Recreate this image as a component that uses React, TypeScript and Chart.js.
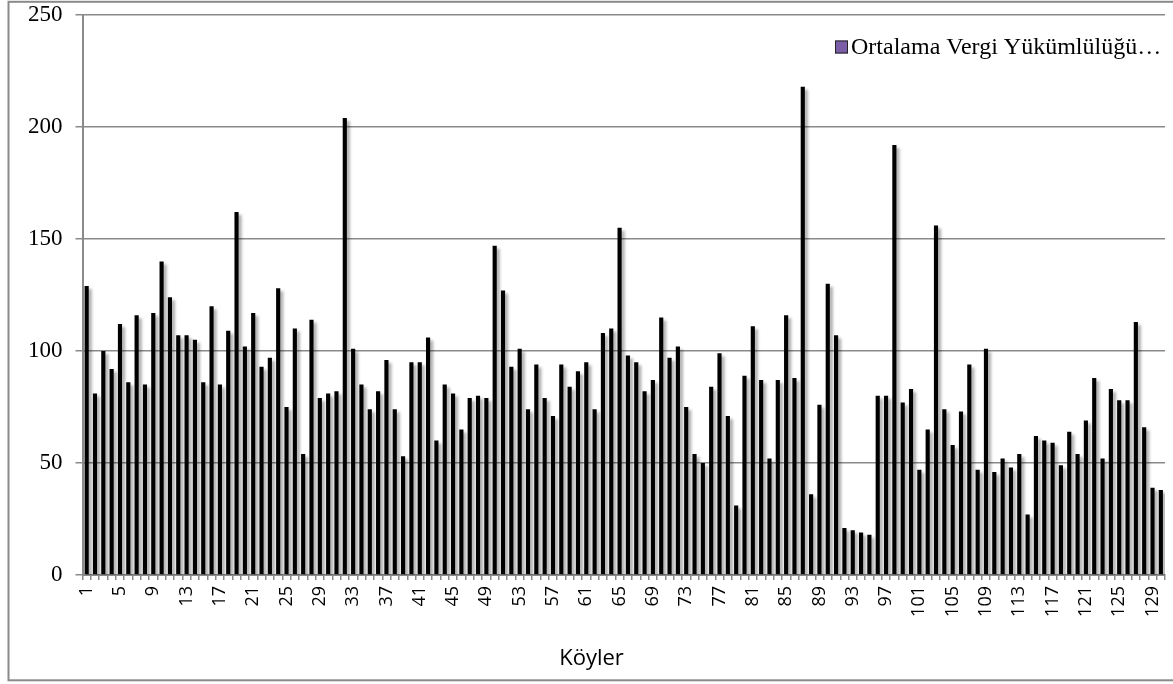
import React, { useEffect, useRef } from "react";
import { Chart, registerables } from "chart.js";

Chart.register(...registerables);

const values: number[] = [
  129, 81, 100, 92, 112, 86, 116, 85, 117, 140,
  124, 107, 107, 105, 86, 120, 85, 109, 162, 102,
  117, 93, 97, 128, 75, 110, 54, 114, 79, 81,
  82, 204, 101, 85, 74, 82, 96, 74, 53, 95,
  95, 106, 60, 85, 81, 65, 79, 80, 79, 147,
  127, 93, 101, 74, 94, 79, 71, 94, 84, 91,
  95, 74, 108, 110, 155, 98, 95, 82, 87, 115,
  97, 102, 75, 54, 50, 84, 99, 71, 31, 89,
  111, 87, 52, 87, 116, 88, 218, 36, 76, 130,
  107, 21, 20, 19, 18, 80, 80, 192, 77, 83,
  47, 65, 156, 74, 58, 73, 94, 47, 101, 46,
  52, 48, 54, 27, 62, 60, 59, 49, 64, 54,
  69, 88, 52, 83, 78, 78, 113, 66, 39, 38,
];

const categories: string[] = values.map((_, i) => String(i + 1));
const legendLabel = "Ortalama Vergi Yükümlülüğü…";
const xTitle = "Köyler";
const yMin = 0;
const yMax = 250;
const yStep = 50;

const GRAY = "#8a8a8a";

const shadowPlugin = {
  id: "barShadow",
  beforeDatasetsDraw(chart: any) {
    const ctx = chart.ctx;
    ctx.save();
    ctx.shadowColor = "rgba(0,0,0,0.32)";
    ctx.shadowBlur = 3;
    ctx.shadowOffsetX = 3;
    ctx.shadowOffsetY = 3;
  },
  afterDatasetsDraw(chart: any) {
    chart.ctx.restore();
  },
};

const decorPlugin = {
  id: "decor",
  afterDraw(chart: any) {
    const ctx = chart.ctx;
    ctx.save();
    // outer frame
    ctx.strokeStyle = GRAY;
    ctx.lineWidth = 2;
    ctx.strokeRect(8.5, 1.8, 1180, 678.5);
    // legend
    ctx.fillStyle = "#7b5ea7";
    ctx.fillRect(835, 40.5, 13, 13);
    ctx.strokeStyle = "#222";
    ctx.lineWidth = 1;
    ctx.strokeRect(835.5, 41, 12, 12);
    ctx.fillStyle = "#000";
    ctx.font = '24px "Liberation Serif"';
    ctx.textBaseline = "middle";
    ctx.textAlign = "left";
    ctx.fillText(legendLabel, 851, 47.5);
    // x title
    ctx.font = '22px "Open Sans"';
    ctx.textAlign = "center";
    ctx.fillText(xTitle, 591.5, 659);
    ctx.restore();
  },
};

export default function App() {
  const ref = useRef<HTMLCanvasElement | null>(null);

  useEffect(() => {
    if (!ref.current) return;
    const chart = new Chart(ref.current, {
      type: "bar",
      data: {
        labels: categories,
        datasets: [
          {
            label: legendLabel,
            data: values,
            backgroundColor: "#000000",
            borderWidth: 0,
            categoryPercentage: 1,
            barPercentage: 0.5,
          },
        ],
      },
      options: {
        animation: false,
        responsive: true,
        maintainAspectRatio: false,
        layout: { padding: { top: 15, right: 8, left: 0, bottom: 0 } },
        plugins: {
          legend: { display: false },
          tooltip: { enabled: false },
          title: { display: false },
        },
        scales: {
          x: {
            offset: true,
            grid: {
              display: true,
              offset: true,
              drawOnChartArea: false,
              drawTicks: true,
              tickLength: 5,
              color: GRAY,
              lineWidth: 1.5,
            },
            border: { display: true, color: GRAY, width: 2 },
            ticks: {
              autoSkip: false,
              minRotation: 90,
              maxRotation: 90,
              padding: 6,
              color: "#000",
              font: { family: "Open Sans", size: 18 },
              callback: (_v: any, i: number) => (i % 4 === 0 ? categories[i] : ""),
            },
            afterFit: (s: any) => {
              s.height = 109;
              s.paddingLeft = 0;
              s.paddingRight = 0;
            },
          },
          y: {
            min: yMin,
            max: yMax,
            ticks: {
              stepSize: yStep,
              padding: 13,
              color: "#000",
              font: { family: "Liberation Serif", size: 23 },
            },
            grid: {
              color: GRAY,
              lineWidth: 1.5,
              tickLength: 7,
            },
            border: { display: true, color: GRAY, width: 2 },
            afterFit: (s: any) => {
              s.width = 82.5;
              s.paddingTop = 0;
              s.paddingBottom = 0;
            },
          },
        },
      },
      plugins: [shadowPlugin, decorPlugin],
    });
    return () => chart.destroy();
  }, []);

  return (
    <div style={{ position: "absolute", left: 0, top: 0, width: 1173, height: 684 }}>
      <canvas ref={ref} />
    </div>
  );
}
